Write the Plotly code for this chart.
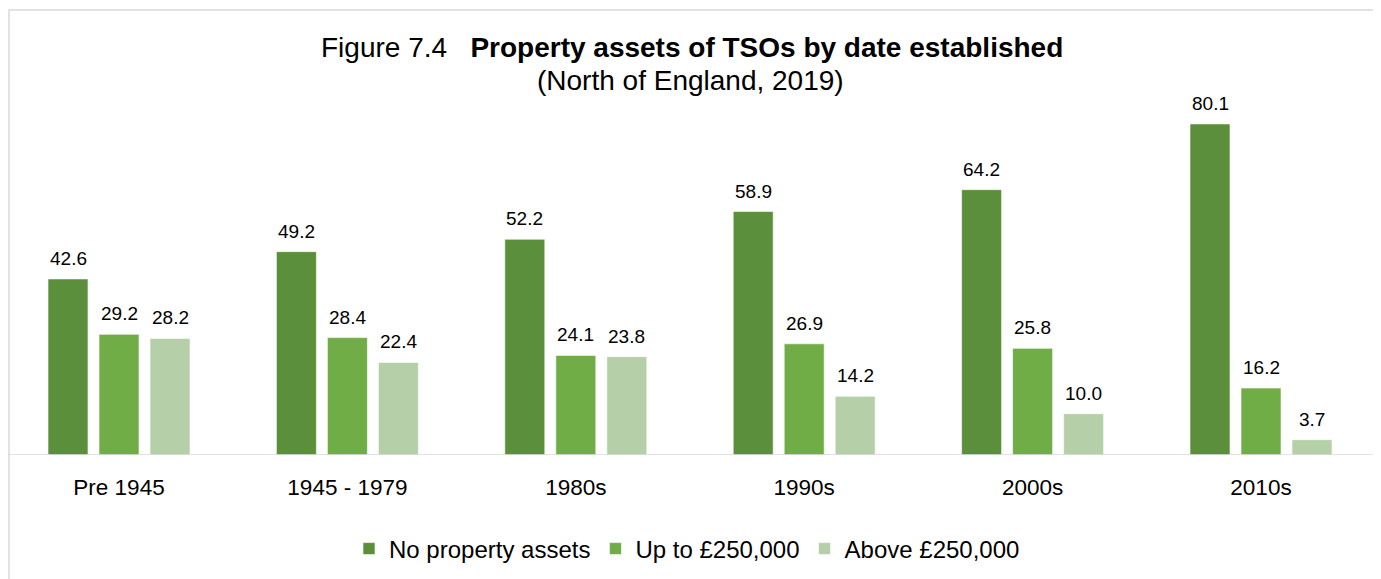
import plotly.graph_objects as go

categories = ["Pre 1945", "1945 - 1979", "1980s", "1990s", "2000s", "2010s"]
series_names = ["No property assets", "Up to £250,000", "Above £250,000"]
no_property = [42.6, 49.2, 52.2, 58.9, 64.2, 80.1]
up_to_250k = [29.2, 28.4, 24.1, 26.9, 25.8, 16.2]
above_250k = [28.2, 22.4, 23.8, 14.2, 10.0, 3.7]
colors = ["#5b8f3b", "#70ad47", "#b5d0a8"]

# page body has an 8px margin, so the figure is drawn 8px in from the window edge
OFF = 8
W, H = 1381 - OFF, 579 - OFF
ML, MR, MT, MB = 0, 7, 75, 124
YMAX = 90
plot_h = H - MT - MB
plot_w = W - ML - MR
cat_px = 228.4
x0_range = -(119 - OFF) / cat_px
x1_range = x0_range + plot_w / cat_px

FONT = "Liberation Sans, Arial, sans-serif"

fig = go.Figure()
all_series = [no_property, up_to_250k, above_250k]
for name, vals, col in zip(series_names, all_series, colors):
    fig.add_trace(go.Bar(
        x=categories, y=vals, name=name,
        marker=dict(color=col, line=dict(color="rgba(255,255,255,0.6)", width=1)),
    ))

# data labels
slot_px = 51
annotations = []
for i, vals in enumerate(all_series):
    for c, v in zip(categories, vals):
        annotations.append(dict(
            x=c, y=v, xref="x", yref="y", text=f"{v:.1f}", showarrow=False,
            xshift=(i - 1) * slot_px, yanchor="bottom", yshift=8,
            font=dict(family=FONT, size=19, color="#000000"),
        ))

def py(pix):
    # pix given in window coordinates
    return (H - MB - (pix - OFF)) / plot_h

def px(pix):
    return (pix - OFF - ML) / plot_w

annotations.append(dict(
    x=px(692), y=py(47), xref="paper", yref="paper", showarrow=False, yanchor="middle",
    xanchor="center",
    text="Figure 7.4\u00a0\u00a0\u00a0<b>Property assets of TSOs by date established</b>",
    font=dict(family=FONT, size=28, color="#000000"),
))
annotations.append(dict(
    x=px(690), y=py(80), xref="paper", yref="paper", showarrow=False, yanchor="middle",
    xanchor="center",
    text="(North of England, 2019)",
    font=dict(family=FONT, size=28, color="#000000"),
))

shapes = [
    dict(type="rect", xref="paper", yref="paper",
         x0=1 / plot_w, x1=px(1377), y0=py(640), y1=py(10),
         line=dict(color="#d9d9d9", width=1.5), fillcolor="rgba(0,0,0,0)", layer="below"),
    dict(type="line", xref="paper", yref="y",
         x0=0, x1=px(1377), y0=0, y1=0,
         line=dict(color="#d9d9d9", width=1.5), layer="above"),
]

fig.update_layout(
    width=W, height=H,
    margin=dict(l=ML, r=MR, t=MT, b=MB, pad=0),
    paper_bgcolor="white", plot_bgcolor="white",
    barmode="group", bargap=0.33, bargroupgap=0.216,
    font=dict(family=FONT, size=18, color="#000000"),
    xaxis=dict(showgrid=False, showline=False, ticks="outside", ticklen=12,
               tickcolor="rgba(0,0,0,0)", tickfont=dict(size=22.5, family=FONT),
               range=[x0_range, x1_range]),
    yaxis=dict(range=[0, YMAX], visible=False, showgrid=False),
    legend=dict(orientation="h", x=px(687), xanchor="center", y=py(549), yanchor="middle",
                font=dict(family=FONT, size=24), itemwidth=30, traceorder="normal"),
    annotations=annotations,
    shapes=shapes,
    showlegend=True,
)

fig.write_html("out.html")
